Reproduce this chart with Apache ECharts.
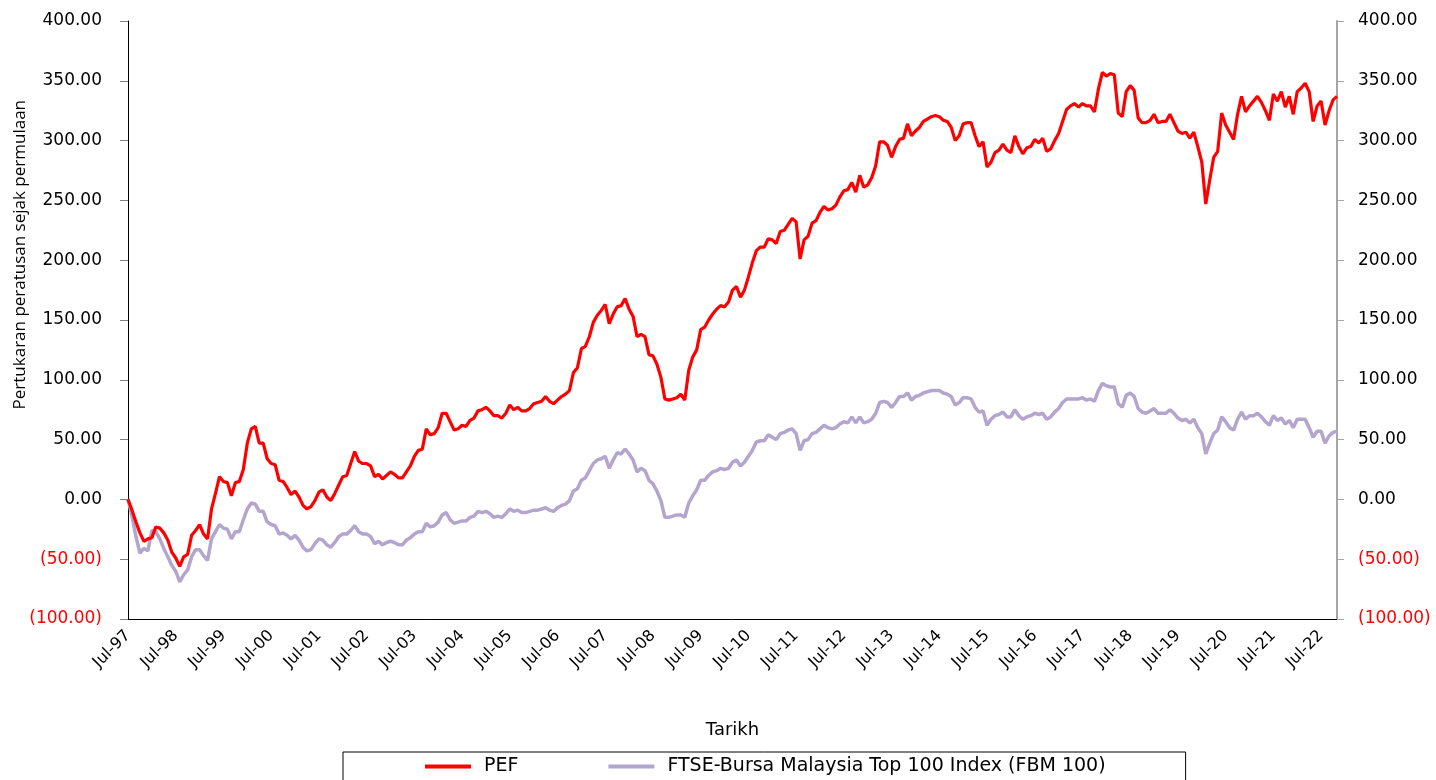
<!DOCTYPE html>
<html>
<head>
<meta charset="utf-8">
<script src="https://cdn.jsdelivr.net/npm/echarts@6/dist/echarts.min.js"></script>
<style>
html,body{margin:0;padding:0;background:#fff;}
#chart{width:1436px;height:780px;}
</style>
</head>
<body>
<div id="chart"></div>
<script>
// Monthly categories, Jul-97 .. Nov-22
const monthNames = ['Jan','Feb','Mar','Apr','May','Jun','Jul','Aug','Sep','Oct','Nov','Dec'];
const startYear = 1997, startMonth = 6, monthCount = 305;
const categories = [];
for (let i = 0; i < monthCount; i++) {
  const m = (startMonth + i) % 12;
  const y = startYear + Math.floor((startMonth + i) / 12);
  categories.push(monthNames[m] + '-' + String(y % 100).padStart(2, '0'));
}

const yTicks = [-100, -50, 0, 50, 100, 150, 200, 250, 300, 350, 400];

const pefValues = [
0,-9,-19,-28,-35,-33,-32,-23,-24,-28,-34,-44,-49,-56,-48,-46,-30,-26,-21,-29,
-33,-8,5,19,15,14,3,14,15,25,47,59,61,47,47,34,30,29,16,15,
10,4,7,2,-5,-8,-6,-1,6,8,2,-1,5,12,19,20,30,40,32,30,
30,28,19,21,17,20,23,21,18,18,23,28,36,41,42,59,54,55,60,72,
72,65,58,59,62,61,66,68,74,75,77,74,70,70,68,72,79,75,77,74,
74,76,80,81,82,86,82,80,83,86,88,91,106,110,126,128,136,148,154,158,
163,147,155,161,162,168,159,153,136,138,136,121,120,113,102,84,83,84,85,88,
83,108,119,125,142,144,150,155,159,162,161,165,175,178,169,175,186,198,208,211,
211,218,217,214,224,225,230,235,232,201,217,220,231,233,240,245,242,243,246,253,
258,259,265,257,271,261,263,269,279,299,299,296,286,295,301,302,314,304,308,311,
316,318,320,321,320,317,316,311,300,304,314,315,315,304,295,299,278,282,290,292,
297,292,290,304,295,289,294,295,301,298,302,291,293,300,306,316,326,329,331,328,
331,329,329,324,343,357,354,356,355,323,320,341,346,342,319,315,315,317,322,315,
316,316,322,315,308,306,307,302,307,295,282,247,267,286,291,323,313,307,301,322,
337,324,329,333,337,332,325,317,339,333,341,328,337,322,341,344,348,341,316,329,
333,313,325,334,337
];

const fbmValues = [
0,-14,-31,-45,-41,-43,-26,-27,-33,-41,-48,-55,-60,-69,-63,-59,-48,-42,-42,-47,
-51,-33,-27,-21,-24,-25,-33,-27,-27,-17,-8,-3,-4,-10,-10,-19,-21,-22,-29,-28,
-30,-33,-30,-34,-40,-43,-42,-37,-33,-34,-38,-40,-36,-31,-29,-29,-26,-22,-27,-29,
-29,-31,-37,-35,-38,-36,-35,-36,-38,-38,-34,-32,-29,-27,-27,-20,-23,-22,-19,-13,
-11,-17,-20,-19,-18,-18,-15,-14,-10,-11,-10,-12,-15,-14,-15,-12,-8,-10,-9,-11,
-11,-10,-9,-9,-8,-7,-9,-10,-7,-5,-4,-1,7,9,16,18,24,30,33,34,
36,26,33,39,38,42,38,33,23,26,24,16,13,7,-1,-15,-15,-14,-13,-13,
-15,-3,3,8,16,16,20,23,24,26,25,26,31,33,28,31,36,41,48,49,
49,54,52,50,55,56,58,59,55,41,49,50,55,56,59,62,60,59,60,63,
65,64,69,64,69,64,65,67,72,81,82,81,77,81,86,86,89,83,86,87,
89,90,91,91,91,89,88,86,79,81,85,85,84,77,73,74,62,67,70,71,
73,69,69,75,70,67,69,70,72,71,72,67,69,73,76,81,84,84,84,84,
85,83,84,82,91,97,95,94,94,80,77,87,89,86,76,73,72,74,76,72,
72,72,75,72,68,66,67,64,67,60,55,38,47,55,58,69,65,60,58,67,
73,67,70,70,72,69,65,62,70,66,68,63,66,60,67,67,67,60,52,57,
57,47,53,56,57
];

const FONT = '"DejaVu Sans", "Open Sans", sans-serif';
const FONT2 = '"Open Sans", "Noto Sans", sans-serif';

function fmt(v) {
  if (v < 0) return '{neg|(' + Math.abs(v).toFixed(2) + ')}';
  return '{pos|' + v.toFixed(2) + '}';
}
const labelRich = {
  neg: { color: '#FF0000', fontFamily: FONT, fontSize: 17 },
  pos: { color: '#000000', fontFamily: FONT, fontSize: 17 }
};

const chart = echarts.init(document.getElementById('chart'), null, { renderer: 'canvas' });
chart.setOption({
  backgroundColor: '#ffffff',
  animation: false,
  textStyle: { fontFamily: FONT },
  grid: { left: 128, right: 99, top: 21, bottom: 161, containLabel: false },
  legend: {
    left: 343, top: 752,
    padding: [5, 80, 14, 82],
    borderColor: '#000', borderWidth: 1,
    itemGap: 90, itemWidth: 46, itemHeight: 4,
    icon: 'rect',
    textStyle: { fontFamily: FONT, fontSize: 19, color: '#000', padding: [0, 0, 0, 8] },
    data: [
      { name: 'PEF', itemStyle: { color: '#FF0000' } },
      { name: 'FTSE-Bursa Malaysia Top 100 Index (FBM 100)', itemStyle: { color: '#B3A5CD' } }
    ]
  },
  graphic: [{
    type: 'text',
    left: 12, top: 100,
    rotation: Math.PI / 2,
    style: { text: 'Pertukaran peratusan sejak permulaan', fontFamily: FONT2, fontSize: 17, fill: '#000' },
    originX: 0, originY: 0
  }],
  xAxis: {
    type: 'category',
    data: categories,
    boundaryGap: false,
    name: 'Tarikh',
    nameLocation: 'middle',
    nameGap: 102,
    nameTextStyle: { fontFamily: FONT, fontSize: 18, color: '#000' },
    axisLine: { onZero: false, lineStyle: { color: '#000', width: 1 } },
    axisTick: { show: false },
    axisLabel: { interval: 11, rotate: 45, margin: 14, fontFamily: FONT, fontSize: 16, color: '#000' },
    splitLine: { show: false }
  },
  yAxis: [{
    type: 'value', position: 'left',
    min: -100, max: 400, interval: 50,
    axisLine: { show: true, lineStyle: { color: '#000', width: 1 } },
    axisTick: { show: true, inside: false, length: 8, lineStyle: { color: '#7f7f7f' } },
    axisLabel: { margin: 26, formatter: fmt, rich: labelRich },
    splitLine: { show: false }
  }, {
    type: 'value', position: 'right',
    min: -100, max: 400, interval: 50,
    axisLine: { show: true, lineStyle: { color: '#A6A6A6', width: 2 } },
    axisTick: { show: true, inside: false, length: 7, lineStyle: { color: '#A6A6A6' } },
    axisLabel: { margin: 21, formatter: fmt, rich: labelRich },
    splitLine: { show: false }
  }],
  series: [{
    name: 'PEF', type: 'line', data: pefValues, yAxisIndex: 0,
    showSymbol: false, z: 3,
    lineStyle: { color: '#FF0000', width: 3.2 },
    itemStyle: { color: '#FF0000' }
  }, {
    name: 'FTSE-Bursa Malaysia Top 100 Index (FBM 100)', type: 'line', data: fbmValues, yAxisIndex: 0,
    showSymbol: false, z: 2,
    lineStyle: { color: '#B3A5CD', width: 3.5 },
    itemStyle: { color: '#B3A5CD' }
  }]
});
</script>
</body>
</html>
